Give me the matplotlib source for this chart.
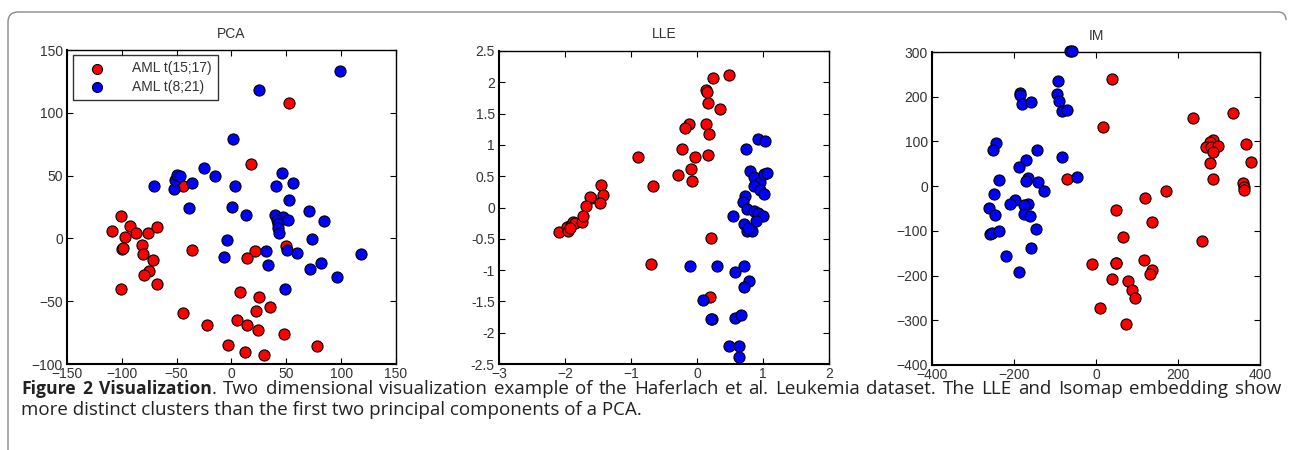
import matplotlib.pyplot as plt
from matplotlib.path import Path
from matplotlib.patches import PathPatch

# ---- data ----
pca_red_x = [-100.6, -93, -108.8, -87.3, -97, -76.4, -67.6, -100, -99, -81.2, -80.6, -71.2, -75.2,
             -79.7, -68.2, -101.2, -35.8, -44, -22.4, -3.2, 4.9, 8.0, 21, 14.3, 49.7, 25, 34.8, 22.3,
             14, 23.8, 47.6, 11.9, 29.6, 78.4, -44.2, 52.7, 17.4]
pca_red_y = [18.1, 10, 5.9, 4.5, 1, 4.3, 8.8, -8.5, -7.5, -5.6, -12.3, -17, -26,
             -29.3, -36, -40, -9.6, -59, -69.3, -84.8, -64.8, -42.4, -10.4, -16, -5.9, -46.4, -54.7, -58.1,
             -69, -73, -76.5, -90.1, -93, -85.3, 42, 108, 59]
pca_blue_x = [-38.5, 0.5, -3.8, -6.4, 52.4, 13.1, 39.6, 47, 51.2, 41.5, 42.7, 42, 43.6, 70.7, 84.5,
              73.2, 31.4, 50.6, 60, 117.7, 33.5, 81.4, 71.6, 96.6, 49, -70.6, -52.4, -51.8, -49.7,
              -46.7, -36.4, -25.5, -15.2, 1.8, 3, 99, 25.3, 46, 40.5, 56.4]
pca_blue_y = [24.3, 25, -1.3, -15.2, 30.7, 18.4, 18.4, 16.8, 14.4, 14.9, 11.5, 8, 4.3, 21.5, 14.1,
              -0.3, -9.9, -9.3, -11.5, -12.3, -20.8, -19.2, -24, -30.4, -40.5, 42, 39.7, 46.5, 50.8,
              49.7, 43.9, 55.8, 49.7, 79.2, 41.8, 133.6, 118.2, 52.4, 41.8, 43.9]

lle_red_x = [-0.89, -1.449, -1.612, -1.62, -1.429, -1.469, -1.679, -2.087, -1.974, -1.954, -1.913,
             -1.878, -1.852, -1.93, -1.745, -1.730, -0.70, 0.492, 0.244, 0.142, 0.157, 0.162, 0.345,
             -0.122, -0.188, 0.142, 0.178, -0.228, -0.03, 0.162, -0.091, -0.284, -0.081, -0.66,
             0.213, 0.198]
lle_red_y = [0.808, 0.362, 0.144, 0.16, 0.207, 0.064, 0.027, -0.399, -0.314, -0.372, -0.277,
             -0.239, -0.25, -0.33, -0.239, -0.133, -0.904, 2.122, 2.064, 1.878, 1.84, 1.67, 1.574,
             1.335, 1.271, 1.34, 1.17, 0.936, 0.814, 0.846, 0.617, 0.527, 0.42, 0.351,
             -0.489, -1.436]
lle_blue_x = [0.919, 1.036, 0.741, 0.797, 0.868, 0.959, 0.858, 1.02, 1.056, 0.959, 1.02, 0.731,
              0.69, 0.751, 0.868, 0.919, 0.995, 0.888, 0.553, 0.706, 0.751, 0.827, 0.777, -0.107,
              0.299, 0.569, 0.716, 0.782, 0.706, 0.091, 0.223, 0.218, 0.569, 0.665, 0.487, 0.635,
              0.629]
lle_blue_y = [1.096, 1.059, 0.941, 0.585, 0.489, 0.404, 0.346, 0.532, 0.559, 0.282, 0.223, 0.176,
              0.085, -0.027, -0.053, -0.09, -0.133, -0.218, -0.128, -0.266, -0.372, -0.378, -0.335,
              -0.941, -0.941, -1.032, -0.941, -1.17, -1.271, -1.479, -1.787, -1.78, -1.771, -1.713,
              -2.207, -2.207, -2.383]

im_red_x = [-70.3, 38.9, 16.2, 236.4, 333.6, 285, 278.5, 267.2, 279.4, 298, 285, 366.8, 278.5, 379,
            285, 358.7, 362, 360.3, 171.7, 119.8, 47.8, 136, 66.4, 257.5, -8.9, 49.4, 48.5, 118.2,
            136.8, 132.8, 38.1, 77.7, 88.3, 94, 9.7, 73.7]
im_red_y = [15.8, 238.7, 132.5, 151.9, 164.6, 104, 99.6, 86.8, 86.8, 90.6, 77.1, 95.1, 52.4, 53.9,
            15, 6, -3, -9, -11.9, -25.4, -52.8, -80.7, -113.3, -122.2, -174.8, -172.6, -171, -164.4,
            -188.1, -196.3, -207.4, -211.9, -231.9, -249.6, -273.3, -307.4]
im_blue_x = [-64.5, -58, -93.9, -95.5, -91.4, -83.3, -70.2, -184.5, -184.5, -179.6, -158.4, -243.3,
             -251.4, -144.5, -170.6, -187, -83.3, -45.7, -236.7, -166.5, -171.4, -141.2, -125.7,
             -249.8, -197.6, -210.6, -166.5, -175.5, -260.4, -246.5, -175.5, -160, -145.3, -258,
             -253, -236, -218.8, -159.2, -186.9]
im_blue_y = [301.5, 301.5, 235, 205, 190, 167.6, 170, 207.3, 202.8, 184, 187.8, 96.6,
             80.9, 81.6, 58.4, 42.7, 65, 20.2, 13.5, 18.8, 10.6, 9.8, -10.4,
             -18.6, -31.3, -39.6, -39.6, -41.8, -49.3, -64.4, -63, -66, -95.6, -106,
             -103.7, -100.7, -157, -137.8, -192.6]

titles = ['PCA', 'LLE', 'IM']
legend_labels = ['AML t(15;17)', 'AML t(8;21)']
caption_bold = ['Figure', '2', 'Visualization']
caption_rest = ('. Two dimensional visualization example of the Haferlach et al. Leukemia dataset. '
                'The LLE and Isomap embedding show')
caption_line2 = 'more distinct clusters than the first two principal components of a PCA.'

plt.rcParams['font.family'] = ['Liberation Sans', 'DejaVu Sans']

fig = plt.figure(figsize=(12.9, 4.5), dpi=100)
W, H = 1290.0, 450.0

def add_axes(l, t, r, b):
    return fig.add_axes([l / W, 1 - b / H, (r - l) / W, (b - t) / H])

ax1 = add_axes(67, 50, 396, 364)
ax2 = add_axes(499, 51, 829, 364)
ax3 = add_axes(932, 52, 1260, 365)

panels = [
    (ax1, pca_red_x, pca_red_y, pca_blue_x, pca_blue_y, (-150, 150), (-100, 150),
     range(-150, 151, 50), range(-100, 151, 50)),
    (ax2, lle_red_x, lle_red_y, lle_blue_x, lle_blue_y, (-3, 2), (-2.5, 2.5),
     [-3, -2, -1, 0, 1, 2], [-2.5, -2, -1.5, -1, -0.5, 0, 0.5, 1, 1.5, 2, 2.5]),
    (ax3, im_red_x, im_red_y, im_blue_x, im_blue_y, (-400, 400), (-400, 300),
     range(-400, 401, 200), range(-400, 301, 100)),
]

for i, (ax, rx, ry, bx, by, xl, yl, xt, yt) in enumerate(panels):
    ax.scatter(rx, ry, s=64, c='#ff0000', edgecolors='black', linewidths=0.8, zorder=3,
               label=legend_labels[0], clip_on=False)
    ax.scatter(bx, by, s=64, c='#0000ff', edgecolors='black', linewidths=0.8, zorder=3,
               label=legend_labels[1], clip_on=False)
    ax.set_xlim(*xl)
    ax.set_ylim(*yl)
    ax.set_xticks(list(xt))
    ax.set_yticks(list(yt))
    if i == 1:
        ax.set_yticklabels(['%g' % v for v in yt])
    ax.tick_params(direction='in', length=4, width=0.8, top=True, right=True,
                   labelsize=10, labelcolor='#333333', pad=3)
    ax.tick_params(axis='x', pad=2)
    for side in ['left', 'bottom']:
        ax.spines[side].set_linewidth(1.5)
    for side in ['top', 'right']:
        ax.spines[side].set_linewidth(1.0)
    ax.set_title(titles[i], fontsize=10, color='#333333', pad=9)

leg = ax1.legend(loc='upper left', bbox_to_anchor=(0.018, 0.984), borderaxespad=0,
                 fontsize=10, frameon=True, fancybox=False, handletextpad=1.2,
                 borderpad=0.45, labelspacing=0.35, markerscale=0.9, handlelength=2.6)
leg.get_frame().set_edgecolor('black')
leg.get_frame().set_linewidth(1.0)
for t in leg.get_texts():
    t.set_color('#333333')

# caption, first line justified between x=21 and x=1281
cap_font = ['Open Sans', 'DejaVu Sans']
fig.canvas.draw()
rend = fig.canvas.get_renderer()
y1 = 1 - 394 / H
tokens = [(w, 'bold') for w in caption_bold]
tokens += [(w, 'normal') for w in caption_rest.split()]
texts = []
for w, fw in tokens:
    t = fig.text(0, y1, w, fontsize=12.6 if fw == 'bold' else 13.5, fontweight=fw,
                 family=cap_font, color='#222222', va='baseline')
    texts.append(t)
widths = [t.get_window_extent(renderer=rend).width for t in texts]
# the leading "." sticks to the bold word before it
gap = (1281 - 21 - sum(widths)) / (len(tokens) - 2)
x = 21.0
for k, t in enumerate(texts):
    t.set_x(x / W)
    x += widths[k]
    if k != 2:
        x += gap
fig.text(21 / W, 1 - 415 / H, caption_line2, fontsize=13.5, family=cap_font,
         color='#222222', va='baseline')

# page frame
verts = [(8, 452), (8, 22), (8, 12), (18, 12), (1278, 12), (1286, 12), (1286, 20)]
codes = [Path.MOVETO, Path.LINETO, Path.CURVE3, Path.CURVE3, Path.LINETO, Path.CURVE3, Path.CURVE3]
frame = Path([(x / W, 1 - y / H) for x, y in verts], codes)
fig.add_artist(PathPatch(frame, transform=fig.transFigure, fill=False,
                         edgecolor='#8a8a8a', linewidth=1.0))

fig.savefig('out.png', dpi=100)
